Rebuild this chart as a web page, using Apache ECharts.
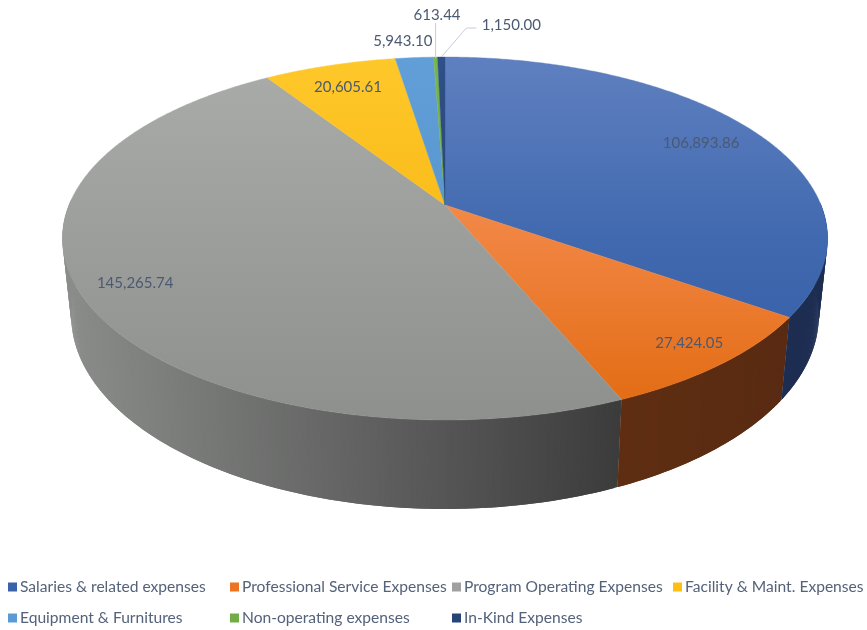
<!DOCTYPE html>
<html><head><meta charset="utf-8">
<style>html,body{margin:0;background:#fff}#c{width:867px;height:630px;filter:blur(0.4px)}</style>
<script src="https://cdn.jsdelivr.net/npm/echarts@6/dist/echarts.min.js"></script>
</head><body><div id="c"></div>
<script>
const categories = ['Salaries & related expenses','Professional Service Expenses','Program Operating Expenses','Facility & Maint. Expenses','Equipment & Furnitures','Non-operating expenses','In-Kind Expenses'];
const values = [106893.86, 27424.05, 145265.74, 20605.61, 5943.10, 613.44, 1150.00];

const legendColors = ['#3a62a8','#ed7421','#a0a0a0','#fdbf12','#5b9bd5','#70ad47','#264478'];
const topLight = ['#5f80c0','#f6a06b','#aaaca9','#ffc82a','#629fd8','#78b54c','#2f5088'];
const topMid   = ['#4169af','#f08440','#9c9e9c','#f8ba18','#5795cd','#6daa45','#284678'];
const topDark  = ['#2f5ba6','#e26a10','#8e908e','#e9aa0c','#4f8cc4','#62a03e','#1f3a68'];
const wallStops = [
  ['#1c2b4d','#1e2e52'],['#5f2e12','#592b12'],['#8b8d8b','#3c3c3c'],
  ['#7a5c10','#7a5c10'],['#2d4f70','#2d4f70'],['#385a24','#385a24'],['#141f38','#141f38']];
const labelPlace = [[0.87,-14,4],[0.88,6,1],[0.83,-13,4],[0.8,-2,-3],[1.1,-9,-4],[1.2,3,-18],[1.0,0,0]];
const legendLeft = [8,230,452,673,8,230,452];
const legendTop = [579,579,579,579,610,610,610];

const total = values.reduce((a,b)=>a+b,0);
const CX=445, CY=205, A=175.3, C=-0.1846, D=376;
const BX=0.977, BY=1.065, BCY=280;
const PT = (th,r)=>{ const x=Math.sin(th)*r, y=-Math.cos(th)*r, w=1+C*y;
  return [D*x/w, A*y/w]; };
const top3 = (th,r)=>{ const p=PT(th,r); return [CX+p[0], CY+p[1]]; };
const bot3 = (th)=>{ const p=PT(th,1); return [CX+BX*p[0], BCY+BY*p[1]]; };
const spans=[]; let cum=0;
values.forEach(v=>{ const a=cum/total*2*Math.PI; cum+=v; spans.push([a,cum/total*2*Math.PI]); });
const arc=(a,b,f)=>{ const n=Math.max(2,Math.ceil((b-a)/0.008)), o=[];
  for(let i=0;i<=n;i++) o.push(f(a+(b-a)*i/n)); return o; };
const fmt=v=>v.toLocaleString('en-US',{minimumFractionDigits:2,maximumFractionDigits:2});
const LABEL_FONT='15px Lato';
const LABEL_COLOR='#4a5a72';

function topItem(i){
  return function(){
    const [a,b]=spans[i];
    const pts=[[CX,CY]].concat(arc(a,b,t=>top3(t,1)));
    const fill={type:'linear',global:true,x:0,y:57,x2:0,y2:420,
      colorStops:[{offset:0,color:topLight[i]},{offset:0.5,color:topMid[i]},{offset:1,color:topDark[i]}]};
    const kids=[{type:'polygon',z2:1,shape:{points:pts},style:{fill:fill,stroke:fill,lineWidth:0.4}}];
    const mid=(a+b)/2, lp=labelPlace[i];
    const m=top3(mid,lp[0]);
    let tx=m[0]+lp[1], ty=m[1]+lp[2];
    if(i===5){
      const e=top3(mid,1);
      kids.push({type:'polyline',z2:3,shape:{points:[[e[0],e[1]+1],[e[0],ty+8]]},style:{fill:null,stroke:'#c6cdd8',lineWidth:1}});
    }
    if(i===6){
      const e=top3(mid,1);
      const el=[e[0]+25,e[1]-29];
      tx=el[0]+45; ty=el[1]-3;
      kids.push({type:'polyline',z2:3,shape:{points:[[e[0],e[1]],el,[el[0]+10,el[1]]]},style:{fill:null,stroke:'#c6cdd8',lineWidth:1}});
    }
    kids.push({type:'text',z2:5,style:{x:tx,y:ty,text:fmt(values[i]),font:LABEL_FONT,fill:LABEL_COLOR,align:'center',verticalAlign:'middle'}});
    return {type:'group',children:kids};
  };
}
function wallItem(i){
  return function(){
    const [a,b]=spans[i];
    const n=Math.max(2,Math.ceil((b-a)/0.008));
    const ang=k=>a+(b-a)*k/n;
    const xs=[];
    for(let k=0;k<=n;k++) xs.push(top3(ang(k),1)[0]);
    const x0=Math.min(...xs), x1=Math.max(...xs);
    const kids=[];
    const order=[];
    for(let k=0;k<n;k++) if(Math.cos(ang(k))<0.02) order.push(k);
    // paint each strip overlapping its neighbour so no seams appear
    order.forEach((k,idx)=>{
      const e=Math.min(n,k+2);
      const f=(x1>x0)?((xs[k]-x0)/(x1-x0)):0;
      const col=echarts.color.lerp(f,wallStops[i]);
      kids.push({type:'polygon',z2:idx,shape:{points:[top3(ang(k),1),top3(ang(e),1),bot3(ang(e)),bot3(ang(k))]},style:{fill:col}});
    });
    return {type:'group',children:kids};
  };
}
const series=[];
categories.forEach((name,i)=>series.push({type:'custom',name,coordinateSystem:'none',z:5,silent:true,
  itemStyle:{color:legendColors[i]},data:[[values[i]]],renderItem:topItem(i)}));
categories.forEach((name,i)=>series.push({type:'custom',name,coordinateSystem:'none',z:2,silent:true,
  itemStyle:{color:legendColors[i]},data:[[values[i]]],renderItem:wallItem(i)}));
const legend=categories.map((name,i)=>({
  data:[name],left:legendLeft[i],top:legendTop[i],padding:0,icon:'rect',itemWidth:9,itemHeight:9,selectedMode:false,
  textStyle:{fontFamily:'Lato',fontSize:15.6,color:'#54627a',padding:[0,0,0,-2]}
}));
const chart=echarts.init(document.getElementById('c'));
chart.setOption({animation:false,backgroundColor:'#fff',legend,series});
</script></body></html>
